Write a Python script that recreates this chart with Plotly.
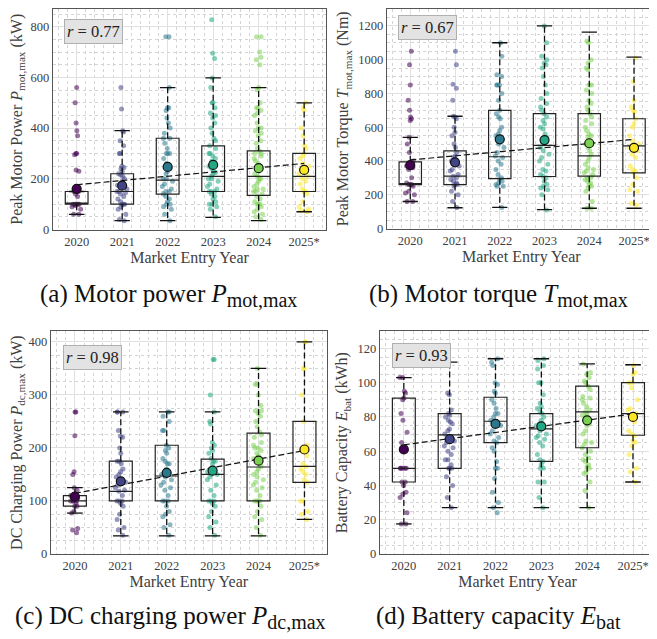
import plotly.graph_objects as go
import numpy as np

years = ["2020", "2021", "2022", "2023", "2024", "2025*"]
colors = ["#440154", "#414487", "#2a788e", "#22a884", "#7ad151", "#fde725"]

# ---------------- (a) Peak motor power (kW) ----------------
pmot_points = [
    [560, 500, 420, 390, 370, 300, 300, 295, 235, 230, 160, 150, 150, 140, 130, 100, 100, 100, 100, 100, 95, 90, 80, 60, 60],
    [560, 475, 390, 385, 350, 330, 300, 300, 250, 245, 240, 230, 220, 215, 210, 200, 190, 180, 175, 170, 160, 150, 150, 145, 140, 130, 120, 110, 100, 100, 100, 90, 80, 60, 40, 35],
    [760, 760, 560, 480, 480, 470, 440, 420, 400, 380, 360, 360, 340, 320, 300, 300, 300, 280, 260, 250, 240, 230, 220, 200, 200, 190, 180, 170, 160, 150, 150, 140, 130, 120, 110, 100, 100, 90, 80, 60, 35],
    [828, 695, 675, 598, 560, 500, 500, 480, 460, 450, 440, 420, 400, 380, 360, 350, 330, 320, 300, 300, 290, 280, 270, 260, 250, 240, 230, 225, 220, 210, 200, 200, 190, 180, 170, 160, 150, 150, 150, 140, 130, 120, 110, 100, 100, 90, 80, 50],
    [760, 760, 700, 680, 670, 650, 560, 550, 500, 480, 480, 470, 460, 450, 420, 400, 400, 390, 380, 370, 350, 340, 320, 310, 300, 300, 290, 280, 270, 260, 250, 240, 230, 220, 210, 200, 200, 190, 180, 170, 160, 160, 150, 150, 140, 130, 120, 110, 100, 100, 100, 90, 80, 70, 60, 50, 40],
    [500, 480, 470, 400, 370, 330, 320, 300, 290, 280, 260, 250, 240, 220, 210, 200, 190, 180, 160, 150, 150, 140, 110, 90, 80, 75, 70],
]
pmot_q1 = [100, 100, 140, 150, 135, 150]
pmot_med = [100, 150, 195, 210, 210, 210]
pmot_q3 = [150, 220, 360, 330, 310, 300]
pmot_lo = [60, 35, 35, 48, 35, 70]
pmot_hi = [150, 390, 560, 598, 560, 500]
pmot_mean = [160, 173, 247, 255, 242, 235]

# ---------------- (b) Peak motor torque (Nm) ----------------
tmot_points = [
    [1050, 970, 850, 760, 700, 660, 650, 640, 540, 500, 450, 400, 380, 370, 360, 350, 300, 270, 260, 260, 260, 250, 220, 210, 200, 160, 160],
    [1050, 970, 855, 830, 760, 665, 660, 650, 600, 570, 550, 500, 480, 450, 430, 420, 400, 380, 370, 350, 340, 320, 310, 300, 290, 280, 270, 260, 260, 250, 220, 200, 160, 125],
    [1100, 1020, 910, 900, 850, 850, 850, 800, 760, 700, 680, 660, 650, 600, 580, 560, 550, 500, 480, 450, 430, 420, 400, 380, 350, 320, 300, 290, 280, 270, 260, 250, 250, 125],
    [1200, 1100, 1020, 1000, 980, 970, 950, 900, 850, 800, 770, 740, 720, 700, 680, 660, 640, 620, 600, 590, 560, 540, 520, 500, 480, 460, 440, 420, 400, 380, 350, 340, 320, 310, 300, 280, 260, 250, 240, 230, 200, 110],
    [1110, 1100, 1000, 980, 950, 940, 850, 850, 820, 800, 760, 740, 720, 700, 680, 660, 640, 620, 600, 580, 560, 550, 540, 520, 500, 480, 460, 440, 420, 400, 380, 360, 350, 340, 330, 320, 300, 300, 290, 280, 270, 260, 250, 240, 220, 160, 120, 120],
    [1010, 870, 760, 720, 700, 690, 650, 620, 600, 550, 520, 500, 490, 480, 460, 440, 420, 370, 350, 340, 330, 300, 260, 230, 220, 150, 140],
]
tmot_q1 = [260, 260, 295, 308, 310, 330]
tmot_med = [260, 310, 425, 492, 430, 490]
tmot_q3 = [395, 460, 700, 680, 680, 650]
tmot_lo = [160, 123, 125, 112, 120, 120]
tmot_hi = [540, 665, 1100, 1200, 1163, 1015]
tmot_mean = [375, 392, 528, 524, 505, 478]

# ---------------- (c) DC charging power (kW) ----------------
pdc_points = [
    [268, 268, 223, 155, 150, 125, 120, 110, 110, 105, 100, 100, 100, 100, 95, 90, 90, 80, 77, 48, 45, 40],
    [268, 268, 268, 233, 222, 220, 200, 190, 175, 175, 170, 160, 155, 150, 145, 140, 135, 130, 125, 120, 118, 110, 100, 100, 100, 95, 90, 75, 65, 50, 45, 35],
    [268, 268, 260, 250, 233, 233, 205, 200, 195, 190, 180, 175, 170, 170, 160, 150, 150, 145, 140, 135, 130, 125, 120, 110, 100, 100, 100, 90, 80, 75, 70, 55, 50, 35],
    [367, 367, 300, 268, 250, 245, 210, 205, 200, 195, 190, 180, 175, 175, 170, 160, 155, 150, 150, 145, 140, 130, 120, 110, 100, 100, 100, 95, 90, 80, 70, 60, 50, 35],
    [350, 320, 320, 300, 280, 270, 270, 265, 260, 250, 240, 230, 225, 220, 210, 205, 200, 200, 195, 190, 185, 180, 175, 170, 165, 160, 155, 150, 145, 140, 135, 130, 125, 120, 110, 100, 100, 100, 100, 90, 80, 70, 65, 50, 35],
    [400, 400, 350, 350, 300, 250, 205, 200, 195, 185, 170, 165, 160, 155, 150, 140, 135, 100, 100, 80, 75, 65],
]
pdc_q1 = [90, 100, 100, 100, 100, 135]
pdc_med = [100, 118, 147, 150, 164, 165]
pdc_q3 = [110, 175, 205, 179, 228, 250]
pdc_lo = [77, 34, 34, 34, 34, 65]
pdc_hi = [125, 268, 268, 268, 350, 400]
pdc_mean = [108, 137, 153, 157, 176, 197]

# ---------------- (d) Battery capacity (kWh) ----------------
ebat_points = [
    [103, 103, 95, 94, 91, 90, 82, 78, 71, 65, 50, 50, 50, 50, 50, 42, 42, 40, 36, 35, 33, 24, 17.5, 17.5],
    [112, 94, 93, 84, 82, 81, 80, 78, 77, 76, 73, 72, 70, 68, 66, 65, 63, 62, 60, 58, 55, 55, 52, 50, 50, 50, 45, 40, 33, 27],
    [114, 112, 110, 100, 99, 95, 94, 90, 88, 85, 82, 82, 80, 78, 77, 75, 72, 70, 68, 66, 65, 62, 60, 54, 50, 50, 44, 36, 30, 27, 24],
    [114, 113, 110, 108, 100, 100, 93, 88, 86, 85, 83, 82, 80, 78, 76, 75, 72, 70, 69, 68, 67, 65, 63, 58, 55, 54, 52, 50, 50, 42, 42, 33, 27],
    [111, 106, 105, 103, 101, 100, 98, 96, 92, 91, 90, 88, 86, 84, 83, 82, 81, 80, 78, 76, 75, 72, 70, 66, 65, 64, 62, 60, 58, 56, 55, 54, 52, 51, 50, 48, 47, 42, 37, 27],
    [110, 106, 105, 100, 100, 97, 90, 85, 84, 82, 80, 77, 72, 70, 69, 66, 65, 63, 58, 50, 48, 42],
]
ebat_q1 = [42, 50, 65, 54, 62, 69.3]
ebat_med = [50, 69.5, 77.5, 73, 83, 82]
ebat_q3 = [91, 82, 91.5, 82, 98, 100]
ebat_lo = [17.5, 27, 27, 27, 27, 42]
ebat_hi = [103, 112, 114, 114, 111, 110.5]
ebat_mean = [61, 67, 76, 74.5, 78, 80]

r_labels = ["0.77", "0.67", "0.98", "0.93"]
y_titles = [
    "Peak Motor Power <i>P</i><sub>mot,max</sub> (kW)",
    "Peak Motor Torque <i>T</i><sub>mot,max</sub> (Nm)",
    "DC Charging Power <i>P</i><sub>dc,max</sub> (kW)",
    "Battery Capacity <i>E</i><sub>bat</sub> (kWh)",
]
SUB = '<sub><span style="font-size:20px">{}</span></sub>'
captions = [
    "(a) Motor power <i>P</i>" + SUB.format("mot,max"),
    "(b) Motor torque <i>T</i>" + SUB.format("mot,max"),
    "(c) DC charging power <i>P</i>" + SUB.format("dc,max"),
    "(d) Battery capacity <i>E</i>" + SUB.format("bat"),
]
y_ranges = [[0, 870], [0, 1300], [0, 420], [0, 130]]
y_dticks = [200, 200, 100, 20]

panels = [
    (pmot_points, pmot_q1, pmot_med, pmot_q3, pmot_lo, pmot_hi, pmot_mean),
    (tmot_points, tmot_q1, tmot_med, tmot_q3, tmot_lo, tmot_hi, tmot_mean),
    (pdc_points, pdc_q1, pdc_med, pdc_q3, pdc_lo, pdc_hi, pdc_mean),
    (ebat_points, ebat_q1, ebat_med, ebat_q3, ebat_lo, ebat_hi, ebat_mean),
]

# layout geometry: page pixel positions, page has an 8px body margin
OFF = 8
W, H = 649, 631


def px(xl, xr):
    return [(xl - OFF) / W, (xr - OFF) / W]


def py(yb, yt):
    return [1 - (yb - OFF) / H, 1 - (yt - OFF) / H]


x_domains = [px(53, 326), px(387, 655.5), px(51, 326.5), px(380, 655)]
y_domains = [py(232, 9), py(231, 9), py(560, 335), py(560, 335)]
cap_pos = [(168, 299), (498, 299), (170, 624), (498, 624)]
rbox_pos = [(0.042, 0.955), (0.041, 0.973), (0.044, 0.938), (0.044, 0.947)]

SERIF = "Liberation Serif, Times New Roman, Times, DejaVu Serif, serif"
TXT = "#404040"
xpos = list(range(len(years)))

fig = go.Figure()
layout = dict(
    width=W, height=H, margin=dict(l=0, r=0, t=0, b=0),
    paper_bgcolor="white", plot_bgcolor="white",
    showlegend=False, boxmode="overlay",
    font=dict(family=SERIF, color=TXT, size=13),
    annotations=[],
)

CAP_W = 0.17
for k, (pts, q1, med, q3, lo, hi, mean) in enumerate(panels):
    xa = "x" if k == 0 else f"x{k+1}"
    ya = "y" if k == 0 else f"y{k+1}"
    # jittered points
    for i, vals in enumerate(pts):
        fig.add_trace(go.Box(
            y=vals, x0=i, xaxis=xa, yaxis=ya, width=0.27,
            boxpoints="all", jitter=0.95, pointpos=0,
            line=dict(width=0, color="rgba(0,0,0,0)"), fillcolor="rgba(0,0,0,0)",
            marker=dict(color=colors[i], size=5, opacity=0.55, line=dict(width=0)),
            hoverinfo="skip",
        ))
    # boxes (no whiskers, drawn separately)
    fig.add_trace(go.Box(
        x=xpos, q1=q1, median=med, q3=q3, lowerfence=q1, upperfence=q3,
        xaxis=xa, yaxis=ya, width=0.5, boxpoints=False,
        line=dict(color="#222222", width=1.2), fillcolor="rgba(0,0,0,0)",
        hoverinfo="skip",
    ))
    # dashed whiskers
    wx, wy, cx, cy = [], [], [], []
    for i in xpos:
        wx += [i, i, None, i, i, None]
        wy += [q3[i], hi[i], None, q1[i], lo[i], None]
        cx += [i - CAP_W, i + CAP_W, None, i - CAP_W, i + CAP_W, None]
        cy += [hi[i], hi[i], None, lo[i], lo[i], None]
    fig.add_trace(go.Scatter(x=wx, y=wy, xaxis=xa, yaxis=ya, mode="lines",
                             line=dict(color="#111111", width=1.3, dash="6px,3px"), hoverinfo="skip"))
    fig.add_trace(go.Scatter(x=cx, y=cy, xaxis=xa, yaxis=ya, mode="lines",
                             line=dict(color="#111111", width=1.3), hoverinfo="skip"))
    # trend line: linear fit of yearly means
    slope, icpt = np.polyfit(xpos, mean, 1)
    tx = [xpos[0], xpos[-1]]
    fig.add_trace(go.Scatter(x=tx, y=[icpt + slope * t for t in tx], xaxis=xa, yaxis=ya, mode="lines",
                             line=dict(color="#111111", width=1.2, dash="6px,3px"), hoverinfo="skip"))
    # means
    fig.add_trace(go.Scatter(x=xpos, y=mean, xaxis=xa, yaxis=ya, mode="markers",
                             marker=dict(color=colors, size=9, line=dict(color="#111111", width=1.2)),
                             hoverinfo="skip"))

    axis_common = dict(showline=True, linecolor="#555555", linewidth=1.4, mirror=True,
                       showgrid=True, gridcolor="#e0e0e0", gridwidth=1.2, zeroline=False,
                       ticks="", tickfont=dict(family=SERIF, size=12.5, color=TXT))
    minor_common = dict(showgrid=True, gridcolor="#d4d4d4", griddash="dot", gridwidth=0.7)
    layout["xaxis" if k == 0 else f"xaxis{k+1}"] = dict(
        axis_common, domain=x_domains[k], anchor=ya, range=[-0.52, 5.48],
        tickmode="array", tickvals=xpos, ticktext=years,
        minor=dict(minor_common, tickmode="linear", tick0=0, dtick=0.2),
        title=dict(text="Market Entry Year", font=dict(family=SERIF, size=16, color=TXT), standoff=3),
    )
    layout["yaxis" if k == 0 else f"yaxis{k+1}"] = dict(
        axis_common, domain=y_domains[k], anchor=xa, range=y_ranges[k],
        tickmode="linear", tick0=0, dtick=y_dticks[k],
        minor=dict(minor_common, tickmode="linear", tick0=0, dtick=y_dticks[k] / 4),
        title=dict(text=y_titles[k], font=dict(family=SERIF, size=16, color=TXT), standoff=5),
    )
    # correlation label
    rx, ry = rbox_pos[k]
    layout["annotations"].append(dict(
        xref=f"{xa} domain", yref=f"{ya} domain", x=rx, y=ry,
        xanchor="left", yanchor="top", showarrow=False,
        text=f"<i>r</i> = {r_labels[k]}", font=dict(family=SERIF, size=16.5, color="#222222"),
        bgcolor="#e3e3e3", bordercolor="#b0b0b0", borderwidth=1, borderpad=2,
    ))
    # caption
    cxp, cyp = cap_pos[k]
    layout["annotations"].append(dict(
        xref="paper", yref="paper", x=(cxp - OFF) / W, y=1 - (cyp - OFF) / H,
        xanchor="center", yanchor="middle", showarrow=False,
        text=captions[k], font=dict(family=SERIF, size=25, color="#111111"),
    ))

fig.update_layout(**layout)
fig.write_html("out.html")
